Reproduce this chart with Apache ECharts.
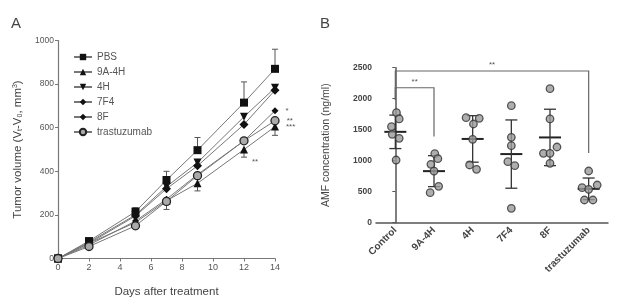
<!DOCTYPE html>
<html><head><meta charset="utf-8">
<script src="https://cdn.jsdelivr.net/npm/echarts@6/dist/echarts.min.js"></script>
<style>html,body{margin:0;padding:0;background:#fff}#c{width:623px;height:307px}</style>
</head><body><div id="c"></div>
<script>
// ---------- Panel A data ----------
var days = [0, 2, 5, 7, 9, 12, 14];
var dayTicks = [0, 2, 4, 6, 8, 10, 12, 14];
var volTicks = [0, 200, 400, 600, 800, 1000];
var seriesNames = ['PBS', '9A-4H', '4H', '7F4', '8F', 'trastuzumab'];
var volPBS   = [0, 80, 215, 360, 497, 715, 870];
var vol9A4H  = [0, 70, 165, 265, 345, 500, 605];
var vol4H    = [0, 75, 200, 330, 440, 650, 783];
var vol7F4   = [0, 70, 195, 320, 425, 615, 772];
var vol8F    = [0, 62, 172, 272, 385, 540, 678];
var volTrast = [0, 55, 150, 262, 380, 540, 632];
var errPBSup    = [0, 10, 18, 40, 58, 95, 90];
var err9A4Hdown = [0, 8, 20, 40, 35, 35, 40];
var sigA = { '8F': [6, '*'], 'trastuzumab': [6, '**'], '9A-4H': [6, '***'] };
var sig9A4Hday12 = [5, '**'];

// ---------- Panel B data ----------
var groups = ['Control', '9A-4H', '4H', '7F4', '8F', 'trastuzumab'];
var amfTicks = [0, 500, 1000, 1500, 2000, 2500];
var amfControl = [1774, 1673, 1549, 1425, 1361, 1011];
var amf9A4H    = [1113, 1032, 941, 833, 587, 484];
var amf4H      = [1694, 1683, 1592, 1345, 931, 861];
var amf7F4     = [1887, 1377, 1242, 984, 919, 232];
var amf8F      = [2161, 1673, 1221, 1119, 1119, 958];
var amfTrast   = [834, 608, 565, 538, 366, 366];
var jitterControl = [0.03, 0.1, -0.1, -0.08, 0.1, 0.02];
var jitter9A4H    = [0.02, 0.1, -0.08, 0, 0.12, -0.1];
var jitter4H      = [-0.17, 0.17, 0.02, 0, -0.08, 0.1];
var jitter7F4     = [0, 0, 0, -0.09, 0.09, 0];
var jitter8F      = [0, 0, 0.18, -0.17, 0, 0];
var jitterTrast   = [0, 0.22, -0.17, 0, -0.11, 0.11];
var brackets = [[0, 1, 2177, 1980, 1390, '**'], [0, 5, 2447, 1980, 1124, '**']];

var amfAll = [amfControl, amf9A4H, amf4H, amf7F4, amf8F, amfTrast];
var jitAll = [jitterControl, jitter9A4H, jitter4H, jitter7F4, jitter8F, jitterTrast];

var FONT = 'Liberation Sans, Arial, sans-serif';
var volAll = [volPBS, vol9A4H, vol4H, vol7F4, vol8F, volTrast];
var symbols = ['rect', 'triangle', 'triangle', 'diamond', 'diamond', 'circle'];
var symRot = [0, 0, 180, 0, 0, 0];
var symSize = [8, 8, 8, 9, 7, 8];

var seriesA = seriesNames.map(function (n, i) {
  var data = volAll[i].map(function (v, k) {
    var item = { value: [days[k], v] };
    if (sigA[n] && sigA[n][0] === k) {
      item.label = { show: true, formatter: sigA[n][1], position: 'right', distance: 7, fontSize: 8, color: '#555', fontFamily: FONT };
    }
    if (n === '9A-4H' && sig9A4Hday12[0] === k) {
      item.label = { show: true, formatter: sig9A4Hday12[1], position: [12, 12], fontSize: 8, color: '#555', fontFamily: FONT };
    }
    return item;
  });
  return {
    name: n, type: 'line', xAxisIndex: 0, yAxisIndex: 0, data: data,
    symbol: symbols[i], symbolRotate: symRot[i], symbolSize: symSize[i],
    lineStyle: { color: '#777', width: 1 },
    itemStyle: { color: i === 5 ? '#aaa' : '#111', borderColor: '#222', borderWidth: i === 5 ? 1.3 : 0 },
    z: 3
  };
});

function errSeries(vals, errs, up) {
  return {
    type: 'custom', xAxisIndex: 0, yAxisIndex: 0, z: 2, silent: true,
    data: vals.map(function (v, k) { return [days[k], v, up ? v + errs[k] : v - errs[k]]; }),
    renderItem: function (params, api) {
      var p0 = api.coord([api.value(0), api.value(1)]);
      var p1 = api.coord([api.value(0), api.value(2)]);
      var st = { stroke: '#555', lineWidth: 1 };
      return { type: 'group', children: [
        { type: 'line', shape: { x1: p0[0], y1: p0[1], x2: p1[0], y2: p1[1] }, style: st },
        { type: 'line', shape: { x1: p1[0] - 3, y1: p1[1], x2: p1[0] + 3, y2: p1[1] }, style: st }
      ]};
    }
  };
}

// B scatter
var scatterData = [];
amfAll.forEach(function (arr, g) {
  arr.forEach(function (v, k) { scatterData.push([g + jitAll[g][k], v]); });
});
function mean(a) { return a.reduce(function (s, x) { return s + x; }, 0) / a.length; }
function sd(a) { var m = mean(a); return Math.sqrt(a.reduce(function (s, x) { return s + (x - m) * (x - m); }, 0) / (a.length - 1)); }
var statData = amfAll.map(function (a, g) { return [g, mean(a), sd(a)]; });
var plain = function (v) { return String(v); };

var option = {
  animation: false,
  textStyle: { fontFamily: FONT },
  graphic: [
    { type: 'text', left: 11, top: 16, style: { text: 'A', font: '15px ' + FONT, fill: '#444' } },
    { type: 'text', left: 320, top: 16, style: { text: 'B', font: '15px ' + FONT, fill: '#444' } }
  ],
  legend: {
    data: seriesNames, orient: 'vertical', left: 68, top: 47,
    itemWidth: 18, itemHeight: 8, itemGap: 5,
    textStyle: { fontSize: 10, color: '#555', fontFamily: FONT, padding: [0, 0, 0, 0] }
  },
  grid: [
    { left: 58, right: 348, top: 40.5, bottom: 48.5 },
    { left: 376, right: 15, top: 67.7, bottom: 84.3 }
  ],
  xAxis: [
    { type: 'value', gridIndex: 0, min: dayTicks[0], max: dayTicks[dayTicks.length - 1], interval: 2,
      name: 'Days after treatment', nameLocation: 'middle', nameGap: 27,
      nameTextStyle: { fontSize: 11.5, color: '#444', fontFamily: FONT },
      axisLine: { lineStyle: { color: '#777', width: 1.2 } }, axisTick: { length: 3, lineStyle: { color: '#777' } },
      axisLabel: { fontSize: 9, color: '#555', margin: 5, formatter: plain }, splitLine: { show: false } },
    { type: 'category', gridIndex: 1, data: groups,
      axisLine: { lineStyle: { color: '#555', width: 1.5 } }, axisTick: { alignWithLabel: true, length: 3, lineStyle: { color: '#555' } },
      axisLabel: { rotate: 45, fontSize: 10, fontWeight: 'bold', color: '#444', margin: 6 } },
    { type: 'value', gridIndex: 1, min: -0.5, max: 5.5, show: false }
  ],
  yAxis: [
    { type: 'value', gridIndex: 0, min: volTicks[0], max: volTicks[volTicks.length - 1], interval: 200,
      name: '{n|Tumor volume (V}{s|t}{n|-V}{s|0}{n|, mm}{p|3}{n|)}', nameLocation: 'middle', nameGap: 34, nameRotate: 90,
      nameTextStyle: { rich: {
        n: { fontSize: 11.5, color: '#444', fontFamily: FONT },
        s: { fontSize: 7, color: '#444', fontFamily: FONT, verticalAlign: 'bottom', padding: [4, 0, 0, 0] },
        p: { fontSize: 7, color: '#444', fontFamily: FONT, verticalAlign: 'top', padding: [0, 0, 4, 0] } } },
      axisLine: { show: true, lineStyle: { color: '#777', width: 1.2 } }, axisTick: { show: true, length: 3, lineStyle: { color: '#777' } },
      axisLabel: { fontSize: 8.5, color: '#555', margin: 4, formatter: plain }, splitLine: { show: false } },
    { type: 'value', gridIndex: 1, min: amfTicks[0], max: amfTicks[amfTicks.length - 1], interval: 500,
      name: 'AMF concentration (ng/ml)', nameLocation: 'middle', nameGap: 44, nameRotate: 90,
      nameTextStyle: { fontSize: 10.5, color: '#444', fontFamily: FONT },
      axisLine: { show: true, lineStyle: { color: '#555', width: 1.5 } }, axisTick: { show: true, length: 3, lineStyle: { color: '#555' } },
      axisLabel: { fontSize: 8.5, fontWeight: 'bold', color: '#444', margin: 4, formatter: plain }, splitLine: { show: false } }
  ],
  series: seriesA.concat([
    errSeries(volPBS, errPBSup, true),
    errSeries(vol9A4H, err9A4Hdown, false),
    {
      type: 'custom', xAxisIndex: 1, yAxisIndex: 1, z: 3, silent: true, data: statData,
      renderItem: function (params, api) {
        var g = api.value(0), m = api.value(1), s = api.value(2);
        var pm = api.coord([g, m]), pt = api.coord([g, m + s]), pb = api.coord([g, m - s]);
        var st = { stroke: '#333', lineWidth: 1.3 };
        return { type: 'group', children: [
          { type: 'line', shape: { x1: pm[0] - 11, y1: pm[1], x2: pm[0] + 11, y2: pm[1] }, style: { stroke: '#222', lineWidth: 2 } },
          { type: 'line', shape: { x1: pt[0], y1: pt[1], x2: pb[0], y2: pb[1] }, style: st },
          { type: 'line', shape: { x1: pt[0] - 6, y1: pt[1], x2: pt[0] + 6, y2: pt[1] }, style: st },
          { type: 'line', shape: { x1: pb[0] - 6, y1: pb[1], x2: pb[0] + 6, y2: pb[1] }, style: st }
        ]};
      }
    },
    {
      type: 'scatter', xAxisIndex: 2, yAxisIndex: 1, z: 4, data: scatterData, symbol: 'circle', symbolSize: 7.5,
      itemStyle: { color: '#9a9a9a', borderColor: '#333', borderWidth: 1.3 }
    },
    {
      type: 'custom', xAxisIndex: 1, yAxisIndex: 1, z: 2, silent: true, data: brackets,
      renderItem: function (params, api) {
        var a = api.value(0), b = api.value(1), top = api.value(2), lb = api.value(3), rb = api.value(4);
        var p1 = api.coord([a, lb]), p2 = api.coord([a, top]), p3 = api.coord([b, top]), p4 = api.coord([b, rb]);
        return { type: 'group', children: [
          { type: 'polyline', shape: { points: [p1, p2, p3, p4] }, style: { stroke: '#666', lineWidth: 1.2, fill: null } },
          { type: 'text', x: (p2[0] + p3[0]) / 2, y: p2[1] - 2, style: { text: brackets[params.dataIndex][5], fill: '#555', font: '8px ' + FONT, align: 'center', verticalAlign: 'bottom' } }
        ]};
      }
    }
  ])
};
var chart = echarts.init(document.getElementById('c'), null, { renderer: 'canvas' });
chart.setOption(option);
</script></body></html>
